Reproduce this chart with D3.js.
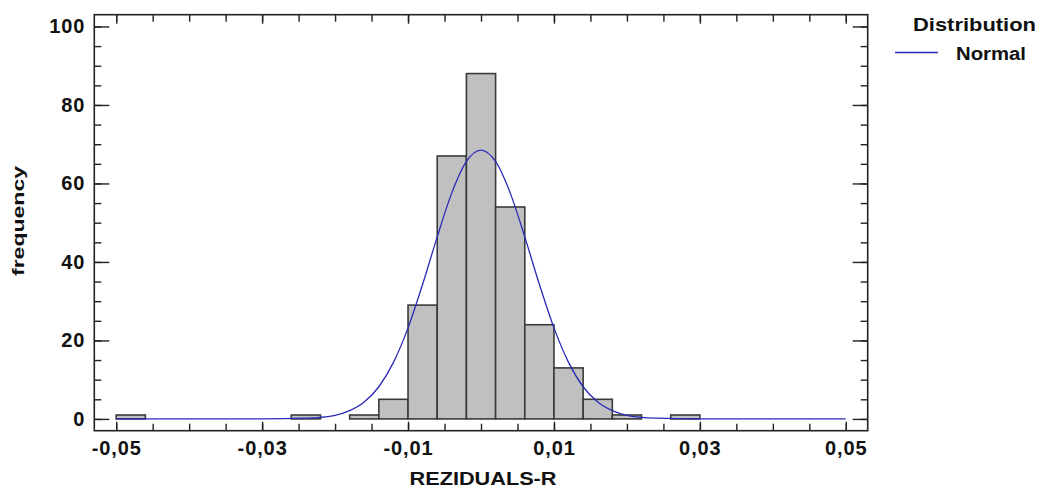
<!DOCTYPE html>
<html>
<head>
<meta charset="utf-8">
<script src="https://cdn.jsdelivr.net/npm/d3@7"></script>
<style>
  html, body { margin: 0; padding: 0; background: #fff; }
  svg { display: block; font-family: "Liberation Sans", Arial, sans-serif; }
</style>
</head>
<body>
<svg id="chart" width="1044" height="488"></svg>
<script>
// ---- data ----
const binStarts = [-0.050, -0.026, -0.018, -0.014, -0.010, -0.006, -0.002, 0.002, 0.006, 0.010, 0.014, 0.018, 0.026];
const binCounts = [1, 1, 1, 5, 29, 67, 88, 54, 24, 13, 5, 1, 1];
const binWidth = 0.004;

// fitted normal curve
const curveX = [-0.050, -0.030, -0.024, -0.022, -0.020, -0.018, -0.016, -0.014, -0.012, -0.010, -0.008, -0.006, -0.004, -0.002, 0.000,
                0.002, 0.004, 0.006, 0.008, 0.010, 0.012, 0.014, 0.016, 0.018, 0.020, 0.022, 0.024, 0.030, 0.050];
const curveY = [0, 0, 0.2, 0.4, 0.9, 2.1, 4.3, 8.2, 14.4, 23.2, 34.3, 46.4, 57.6, 65.6, 68.5,
                65.6, 57.6, 46.4, 34.3, 23.2, 14.4, 8.2, 4.3, 2.1, 0.9, 0.4, 0.2, 0, 0];

const xMajorTicks = [-0.05, -0.03, -0.01, 0.01, 0.03, 0.05];
const xMinorTicks = d3.range(-50, 51, 5).map(v => v / 1000);
const yMajorTicks = [0, 20, 40, 60, 80, 100];
const yMinorTicks = d3.range(0, 101, 5);

const xTitle = "REZIDUALS-R";
const yTitle = "frequency";
const legendTitle = "Distribution";
const legendItem = "Normal";

// ---- layout ----
const svg = d3.select("#chart");
const L = 94.3, R = 867.7, T = 14.7, B = 430.7;
const x = d3.scaleLinear().domain([-0.053, 0.053]).range([L, R]);
const y = d3.scaleLinear().domain([-3, 103]).range([B, T]);

const fmt = v => d3.format(".2f")(v).replace(".", ",").replace("−", "-");

// bars
svg.append("g").selectAll("rect").data(binStarts).join("rect")
  .attr("x", (d) => x(d))
  .attr("width", (d) => x(d + binWidth) - x(d))
  .attr("y", (d, i) => y(binCounts[i]))
  .attr("height", (d, i) => y(0) - y(binCounts[i]))
  .attr("fill", "#c0c0c0")
  .attr("stroke", "#3a3a3a")
  .attr("stroke-width", 1.6);

// normal curve
const line = d3.line().x((d, i) => x(curveX[i])).y((d) => y(d)).curve(d3.curveMonotoneX);
svg.append("path").datum(curveY)
  .attr("d", line)
  .attr("fill", "none")
  .attr("stroke", "#2a2ab8")
  .attr("stroke-width", 1.3);

// axes (ticks inward)
const axisStyle = g => {
  g.select(".domain").remove();
  g.selectAll("line").attr("stroke", "#222").attr("stroke-width", 1.4);
  g.selectAll("text").attr("fill", "#111").style("font-size", "20px").style("font-weight", "bold")
   .style("letter-spacing", "0.9px");
};

// bottom minor
svg.append("g").attr("transform", `translate(0,${B})`)
  .call(d3.axisBottom(x).tickValues(xMinorTicks).tickSize(-7).tickFormat(""))
  .call(axisStyle);
// bottom major
svg.append("g").attr("transform", `translate(0,${B})`)
  .call(d3.axisBottom(x).tickValues(xMajorTicks).tickSize(-9).tickPadding(10).tickFormat(fmt))
  .call(axisStyle);
// top minor + major
svg.append("g").attr("transform", `translate(0,${T})`)
  .call(d3.axisTop(x).tickValues(xMinorTicks).tickSize(-7).tickFormat(""))
  .call(axisStyle);
svg.append("g").attr("transform", `translate(0,${T})`)
  .call(d3.axisTop(x).tickValues(xMajorTicks).tickSize(-9).tickFormat(""))
  .call(axisStyle);
// left
svg.append("g").attr("transform", `translate(${L},0)`)
  .call(d3.axisLeft(y).tickValues(yMinorTicks).tickSize(-7).tickFormat(""))
  .call(axisStyle);
svg.append("g").attr("transform", `translate(${L},0)`)
  .call(d3.axisLeft(y).tickValues(yMajorTicks).tickSize(-15).tickPadding(9).tickFormat(d3.format("d")))
  .call(axisStyle);
// right
svg.append("g").attr("transform", `translate(${R},0)`)
  .call(d3.axisRight(y).tickValues(yMinorTicks).tickSize(-7).tickFormat(""))
  .call(axisStyle);
svg.append("g").attr("transform", `translate(${R},0)`)
  .call(d3.axisRight(y).tickValues(yMajorTicks).tickSize(-15).tickFormat(""))
  .call(axisStyle);

// frame
svg.append("rect").attr("x", L).attr("y", T).attr("width", R - L).attr("height", B - T)
  .attr("fill", "none").attr("stroke", "#222").attr("stroke-width", 1.6);

// axis titles
svg.append("text").attr("x", 483 - 73.5).attr("y", 485)
  .attr("textLength", 147).attr("lengthAdjust", "spacingAndGlyphs")
  .style("font-size", "19px").style("font-weight", "bold").attr("fill", "#111")
  .text(xTitle);
svg.append("text").attr("transform", `translate(24,${221 + 55}) rotate(-90)`)
  .attr("textLength", 110).attr("lengthAdjust", "spacingAndGlyphs")
  .style("font-size", "17px").style("font-weight", "bold").attr("fill", "#111")
  .text(yTitle);

// legend
svg.append("text").attr("x", 913).attr("y", 31)
  .attr("textLength", 123).attr("lengthAdjust", "spacingAndGlyphs")
  .style("font-size", "18px").style("font-weight", "bold").attr("fill", "#111")
  .text(legendTitle);
svg.append("line").attr("x1", 895).attr("x2", 938).attr("y1", 52.5).attr("y2", 52.5)
  .attr("stroke", "#2a2ab8").attr("stroke-width", 1.3);
svg.append("text").attr("x", 956).attr("y", 60)
  .attr("textLength", 70).attr("lengthAdjust", "spacingAndGlyphs")
  .style("font-size", "18px").style("font-weight", "bold").attr("fill", "#111")
  .text(legendItem);
</script>
</body>
</html>
